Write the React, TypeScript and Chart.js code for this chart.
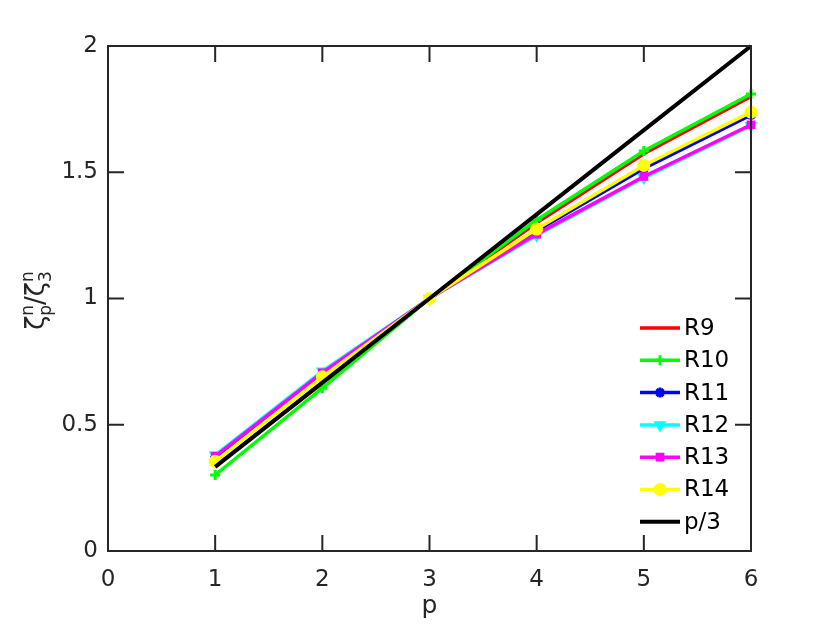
import React, { useEffect, useRef } from 'react';
import { Chart, registerables } from 'chart.js';
import { drawPoint } from 'chart.js/helpers';
Chart.register(...registerables);

const pValues = [1, 2, 3, 4, 5, 6];
const seriesLabels = ['R9', 'R10', 'R11', 'R12', 'R13', 'R14', 'p/3'];
const r9 = [0.335, 0.665, 1, 1.3, 1.573, 1.8];
const r10 = [0.301, 0.645, 1, 1.311, 1.584, 1.81];
const r11 = [0.37, 0.7, 1, 1.268, 1.515, 1.727];
const r12 = [0.38, 0.712, 1, 1.25, 1.478, 1.684];
const r13 = [0.375, 0.706, 1, 1.255, 1.483, 1.688];
const r14 = [0.355, 0.69, 1, 1.275, 1.527, 1.738];
const pOver3 = [0.3333, 0.6667, 1, 1.3333, 1.6667, 2];
const xTicks = [0, 1, 2, 3, 4, 5, 6];
const yTicks = [0, 0.5, 1, 1.5, 2];
const yTickLabels = ['0', '0.5', '1', '1.5', '2'];

const colors = ['#ff0000', '#00ff00', '#0000ff', '#00ffff', '#ff00ff', '#ffff00', '#000000'];
const pointStyles: any[] = [false, 'cross', 'star', 'triangle', 'rect', 'circle', false];
const pointRotations = [0, 0, 0, 180, 0, 0, 0];
const pointRadii = [0, 5, 5, 4.5, 4, 5, 0];

const AXIS = '#262626';
const FONT = 'DejaVu Sans';

const boxPlugin = {
  id: 'box',
  afterDatasetsDraw(chart: any) {
    const { ctx, chartArea: a, scales } = chart;
    ctx.save();
    ctx.strokeStyle = AXIS;
    ctx.lineWidth = 2;
    ctx.strokeRect(a.left, a.top, a.right - a.left, a.bottom - a.top);
    const tl = 16;
    ctx.beginPath();
    xTicks.forEach((v) => {
      const x = scales.x.getPixelForValue(v);
      ctx.moveTo(x, a.bottom); ctx.lineTo(x, a.bottom - tl);
      ctx.moveTo(x, a.top); ctx.lineTo(x, a.top + tl);
    });
    yTicks.forEach((v) => {
      const y = scales.y.getPixelForValue(v);
      ctx.moveTo(a.left, y); ctx.lineTo(a.left + tl, y);
      ctx.moveTo(a.right, y); ctx.lineTo(a.right - tl, y);
    });
    ctx.stroke();

    // axis titles
    ctx.fillStyle = AXIS;
    ctx.textBaseline = 'alphabetic';
    ctx.textAlign = 'center';
    ctx.font = `25px "${FONT}"`;
    ctx.fillText('p', (a.left + a.right) / 2, 613);

    // y label: ζ^n_p/ζ^n_3
    ctx.save();
    ctx.translate(44, (a.top + a.bottom) / 2 + 2);
    ctx.rotate(-Math.PI / 2);
    const big = `26px "${FONT}"`;
    const small = `17px "${FONT}"`;
    const parts: [string, string, string][] = [['ζ', 'n', 'p'], ['/', '', ''], ['ζ', 'n', '3']];
    let total = 0;
    const widths = parts.map(([m, s, b]) => {
      ctx.font = big; const wm = ctx.measureText(m).width;
      ctx.font = small; const ws = Math.max(ctx.measureText(s).width, ctx.measureText(b).width);
      total += wm + ws;
      return [wm, ws];
    });
    let x = -total / 2;
    ctx.textAlign = 'left';
    parts.forEach(([m, s, b], i) => {
      ctx.font = big; ctx.fillText(m, x, 0);
      x += widths[i][0];
      ctx.font = small;
      if (s) ctx.fillText(s, x, -11);
      if (b) ctx.fillText(b, x, 7);
      x += widths[i][1];
    });
    ctx.restore();

    // legend
    const x0 = 640, x1 = 680, y0 = 328, dy = 32.3;
    chart.data.datasets.forEach((ds: any, i: number) => {
      const y = y0 + i * dy;
      ctx.strokeStyle = ds.borderColor;
      ctx.lineWidth = ds.borderWidth;
      ctx.beginPath(); ctx.moveTo(x0, y); ctx.lineTo(x1, y); ctx.stroke();
      if (ds.pointStyle) {
        ctx.fillStyle = ds.borderColor;
        ctx.strokeStyle = ds.borderColor;
        ctx.lineWidth = 3;
        drawPoint(ctx, { pointStyle: ds.pointStyle, rotation: ds.pointRotation, radius: ds.pointRadius, borderWidth: 3 }, (x0 + x1) / 2, y);
      }
      ctx.fillStyle = '#000';
      ctx.font = `23px "${FONT}"`;
      ctx.textAlign = 'left';
      ctx.textBaseline = 'middle';
      ctx.fillText(ds.label, 684, y + 1);
    });
    ctx.restore();
  },
};

export default function App() {
  const ref = useRef<HTMLCanvasElement>(null);
  useEffect(() => {
    const series = [r9, r10, r11, r12, r13, r14, pOver3];
    const chart = new Chart(ref.current!, {
      type: 'line',
      data: {
        datasets: series.map((vals, i) => ({
          label: seriesLabels[i],
          data: vals.map((v, j) => ({ x: pValues[j], y: v })),
          borderColor: colors[i],
          backgroundColor: colors[i],
          pointBackgroundColor: colors[i],
          pointBorderColor: colors[i],
          borderWidth: i === 6 ? 4 : 3.5,
          pointStyle: pointStyles[i],
          pointRotation: pointRotations[i],
          pointRadius: pointRadii[i],
          pointBorderWidth: 3,
          tension: 0,
          fill: false,
          clip: false as any,
          order: 6 - i,
        })),
      },
      options: {
        animation: false,
        responsive: false,
        events: [],
        layout: { padding: { top: 46, right: 79, left: 0, bottom: 0 } },
        plugins: { legend: { display: false }, tooltip: { enabled: false } },
        scales: {
          x: {
            type: 'linear', min: 0, max: 6,
            afterBuildTicks: (s: any) => { s.ticks = xTicks.map((v) => ({ value: v })); },
            ticks: { font: { family: FONT, size: 23 }, color: AXIS, padding: 15, maxRotation: 0, autoSkip: false, callback: (v: any) => String(v) },
            grid: { display: false, drawTicks: false },
            border: { display: false },
            afterFit: (s: any) => { s.height = 74; },
          },
          y: {
            type: 'linear', min: 0, max: 2,
            afterBuildTicks: (s: any) => { s.ticks = yTicks.map((v) => ({ value: v })); },
            ticks: { font: { family: FONT, size: 23 }, color: AXIS, padding: 10, autoSkip: false, callback: (v: any) => yTickLabels[yTicks.indexOf(v)] ?? '' },
            grid: { display: false, drawTicks: false },
            border: { display: false },
            afterFit: (s: any) => { s.width = 108; },
          },
        },
      },
      plugins: [boxPlugin],
    });
    return () => chart.destroy();
  }, []);
  return (
    <div style={{ position: 'fixed', left: 0, top: 0, width: 830, height: 625, background: '#fff' }}>
      <canvas ref={ref} width={830} height={625} style={{ width: 830, height: 625 }} />
    </div>
  );
}
